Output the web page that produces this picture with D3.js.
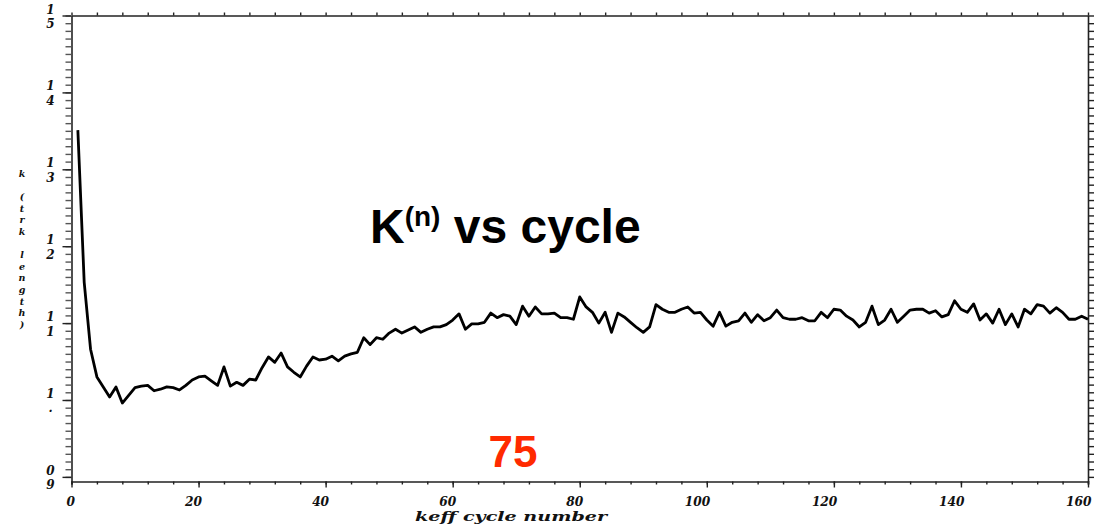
<!DOCTYPE html>
<html><head><meta charset="utf-8">
<script src="https://cdn.jsdelivr.net/npm/d3@7"></script>
<style>body{margin:0;background:#fff}svg{display:block}</style>
</head><body><svg id="c" width="1095" height="527"></svg>
<script>
const cycles = d3.range(1, 161);
const keff = [
1.351,1.153,1.066,1.030,1.017,1.004,1.017,0.996,1.006,1.016,
1.018,1.019,1.012,1.014,1.017,1.016,1.013,1.019,1.026,1.030,
1.031,1.025,1.019,1.043,1.018,1.023,1.019,1.027,1.026,1.042,
1.056,1.049,1.061,1.043,1.036,1.030,1.044,1.056,1.052,1.053,
1.057,1.051,1.057,1.060,1.062,1.081,1.072,1.081,1.079,1.087,
1.092,1.087,1.091,1.095,1.088,1.092,1.095,1.095,1.098,1.104,
1.112,1.092,1.099,1.099,1.101,1.113,1.107,1.111,1.109,1.098,
1.122,1.109,1.121,1.112,1.112,1.113,1.107,1.107,1.105,1.134,
1.121,1.114,1.100,1.114,1.088,1.113,1.108,1.101,1.094,1.088,
1.095,1.124,1.118,1.114,1.114,1.118,1.121,1.113,1.114,1.104,
1.096,1.114,1.096,1.101,1.103,1.113,1.101,1.111,1.103,1.107,
1.117,1.107,1.105,1.105,1.107,1.103,1.103,1.114,1.107,1.118,
1.117,1.109,1.104,1.095,1.101,1.122,1.098,1.104,1.118,1.101,
1.109,1.117,1.118,1.118,1.113,1.116,1.108,1.111,1.129,1.118,
1.114,1.125,1.104,1.112,1.100,1.118,1.098,1.112,1.095,1.118,
1.112,1.124,1.122,1.113,1.120,1.114,1.105,1.105,1.109,1.105];
const xMajor = [0,20,40,60,80,100,120,140,160];
const xMinor = d3.range(0, 161, 4);
const yMajor = [0.9,1.0,1.1,1.2,1.3,1.4,1.5];
const yMinor = d3.range(90, 151).map(d => d/100);
const yTickLabels = ["0.9","1.","1.1","1.2","1.3","1.4","1.5"];
const xTitle = "keff cycle number";
const yTitle = "k (trk length)";
const titleMain = "K", titleSup = "(n)", titleRest = " vs cycle";
const cornerNote = "75";

const svg = d3.select("#c");
const x = d3.scaleLinear().domain([0,160]).range([71.5,1088]);
const y = d3.scaleLinear().domain([0.894,1.5]).range([481.5,15.5]);
const axisColor = "#222";
const tickFont = "'DejaVu Serif', serif";

function style(g){
  g.selectAll("path.domain").attr("stroke", axisColor).attr("stroke-width", 1.6);
  g.selectAll(".tick line").attr("stroke", axisColor).attr("stroke-width", 1.4);
}
// bottom
const gb = svg.append("g").attr("transform", `translate(0,${y.range()[0]})`);
gb.call(d3.axisBottom(x).tickValues(xMinor).tickSize(3).tickFormat("")).call(style);
const gb2 = svg.append("g").attr("transform", `translate(0,${y.range()[0]})`);
gb2.call(d3.axisBottom(x).tickValues(xMajor).tickSize(6).tickSizeOuter(0).tickFormat(d3.format("d"))).call(style);
gb2.select("path.domain").remove();
gb2.selectAll(".tick text")
  .attr("text-anchor","end").attr("x", 3).attr("y", 24).attr("dy", null)
  .attr("font-family", tickFont).attr("font-style","italic").attr("font-weight","bold")
  .attr("font-size", 12).attr("fill","#111")
  .each(function(d){ const s=String(d); d3.select(this).attr("textLength", s.length*8.5).attr("lengthAdjust","spacingAndGlyphs"); });
// top
const gt = svg.append("g").attr("transform", `translate(0,${y.range()[1]})`);
gt.call(d3.axisTop(x).tickValues(xMinor).tickSize(3).tickSizeOuter(0).tickFormat("")).call(style);
// left
const gl = svg.append("g").attr("transform", `translate(${x.range()[0]},0)`);
gl.call(d3.axisLeft(y).tickValues(yMinor).tickSize(6).tickSizeOuter(0).tickFormat("")).call(style);
gl.selectAll(".tick line").attr("stroke","#555");
const gl2 = svg.append("g").attr("transform", `translate(${x.range()[0]},0)`);
gl2.call(d3.axisLeft(y).tickValues(yMajor).tickSize(9).tickFormat("")).call(style);
gl2.select("path.domain").remove();
gl2.selectAll(".tick").each(function(d,i){
  const lab = yTickLabels[i];
  const first = lab[0];
  const second = lab.length > 2 ? lab[lab.length-1] : ".";
  const t = d3.select(this).append("text")
    .attr("font-family", tickFont).attr("font-style","italic").attr("font-weight","bold")
    .attr("font-size", 12).attr("fill","#111").attr("text-anchor","middle");
  t.append("tspan").attr("x", -21).attr("y", -2.5).text(first);
  t.append("tspan").attr("x", -21).attr("y", 12).text(second);
});
// right
const gr = svg.append("g").attr("transform", `translate(${x.range()[1]},0)`);
gr.call(d3.axisRight(y).tickValues(yMinor).tickSize(6).tickSizeOuter(0).tickFormat("")).call(style);

// line
svg.append("path").datum(cycles.map((c,i)=>[c,keff[i]]))
  .attr("fill","none").attr("stroke","#000").attr("stroke-width",2.8)
  .attr("stroke-linejoin","round")
  .attr("d", d3.line().x(d=>x(d[0])).y(d=>y(d[1])));

// axis titles
svg.append("text").attr("x", 511).attr("y", 521).attr("text-anchor","middle")
  .attr("font-family", tickFont).attr("font-style","italic").attr("font-weight","bold")
  .attr("font-size", 13).attr("fill","#111")
  .attr("textLength", 192).attr("lengthAdjust","spacingAndGlyphs").text(xTitle);
const yt = svg.append("text").attr("font-family", tickFont).attr("font-style","italic")
  .attr("font-weight","bold").attr("font-size", 9.5).attr("fill","#111").attr("text-anchor","middle");
yTitle.split("").forEach((ch,i)=>{
  yt.append("tspan").attr("x", 22).attr("y", 177 + i*11.6).text(ch === " " ? "\u00a0" : ch);
});

// title
const tt = svg.append("text").attr("x", 370).attr("y", 243)
  .attr("font-family","'Liberation Sans', Arial, sans-serif").attr("font-weight","bold")
  .attr("font-size", 48).attr("fill","#000");
tt.append("tspan").text(titleMain);
tt.append("tspan").attr("font-size", 28).attr("dy", -17).text(titleSup);
tt.append("tspan").attr("dy", 17).text(titleRest);

svg.append("text").attr("x", 513).attr("y", 467).attr("text-anchor","middle")
  .attr("font-family","'Liberation Sans', Arial, sans-serif").attr("font-weight","bold")
  .attr("font-size", 44).attr("fill","#ff2a00").text(cornerNote);
</script></body></html>
